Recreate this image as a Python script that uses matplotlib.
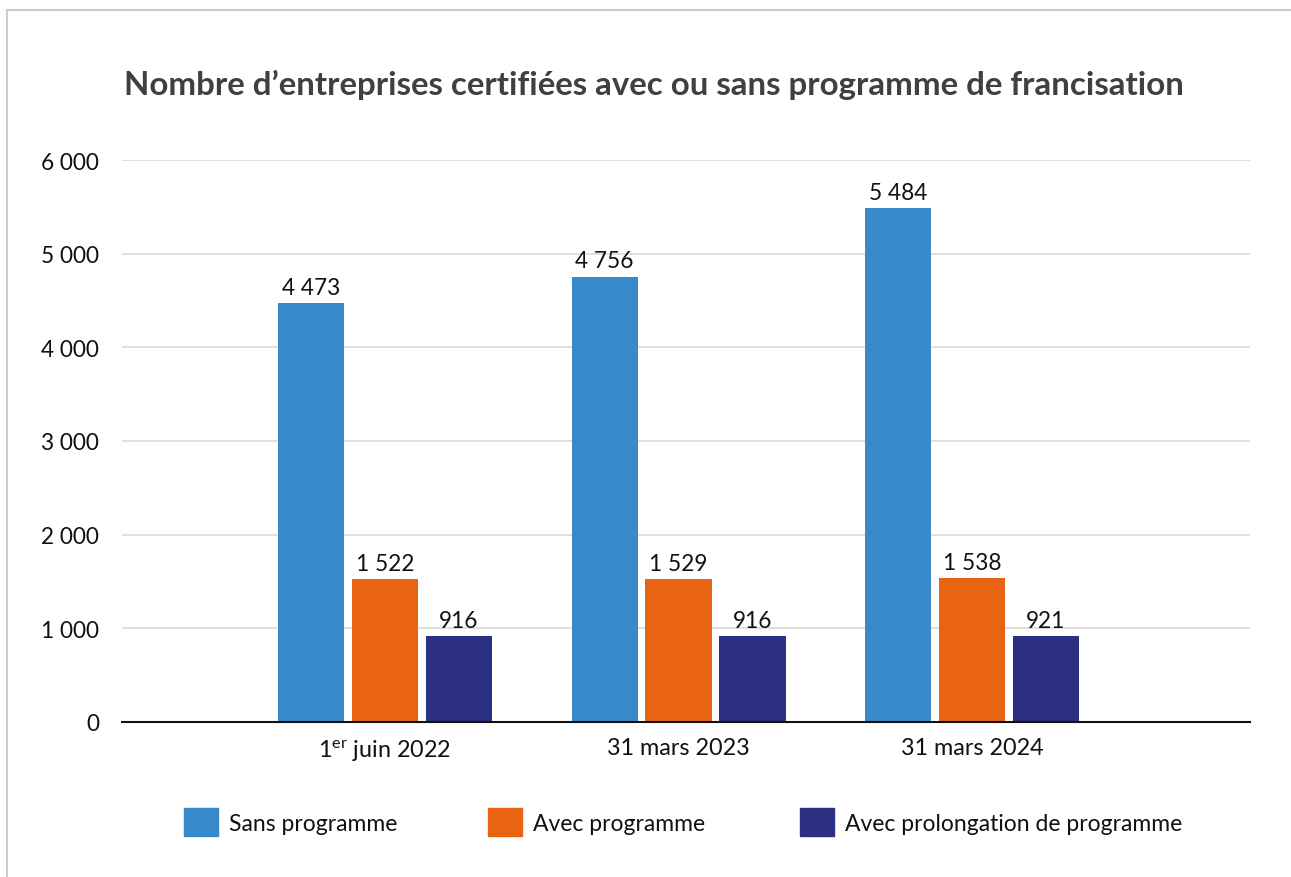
import matplotlib
matplotlib.use("Agg")
import matplotlib.pyplot as plt
from matplotlib.patches import Rectangle
import numpy as np

categories = ["1$\\mathregular{^{er}}$ juin 2022", "31 mars 2023", "31 mars 2024"]
series_names = ["Sans programme", "Avec programme", "Avec prolongation de programme"]
sans = [4473, 4756, 5484]
avec = [1522, 1529, 1538]
prolong = [916, 916, 921]
colors = ["#3789C9", "#E86413", "#2B3080"]
yticks = [0, 1000, 2000, 3000, 4000, 5000, 6000]
ytick_labels = ["0", "1 000", "2 000", "3 000", "4 000", "5 000", "6 000"]

def fmt(v):
    return f"{v:,}".replace(",", " ")

plt.rcParams['font.family'] = ['Lato', 'DejaVu Sans']

W, H = 1291, 878
fig = plt.figure(figsize=(W/100, H/100), dpi=100)
ax = fig.add_axes([122/W, 1-723/H, (1250-122)/W, (723-161)/H])

# frame border (top & left visible)
fig.patches.append(Rectangle((6.5/W, -0.1), 2.0, (1-10.5/H)+0.1, transform=fig.transFigure,
                             fill=False, edgecolor="#cccccc", linewidth=1.5))

x = np.arange(len(categories))
offset = 0.252
width = 0.225
all_series = [sans, avec, prolong]
for i, (vals, c) in enumerate(zip(all_series, colors)):
    bars = ax.bar(x + (i-1)*offset, vals, width=width, color=c, zorder=3)
    for b, v in zip(bars, vals):
        ax.text(b.get_x()+b.get_width()/2, v + 55, fmt(v), ha="center", va="bottom",
                fontsize=16.3, color="#111111")

ax.set_xlim(-0.896, 2.947)
ax.set_ylim(0, 6000)
ax.set_yticks(yticks)
ax.set_yticklabels(ytick_labels, fontsize=16.3, color="#111111")
ax.set_xticks(x)
ax.set_xticklabels(categories, fontsize=16.8, color="#111111")
ax.tick_params(axis="both", length=0)
ax.tick_params(axis="y", pad=16.5)
ax.tick_params(axis="x", pad=11)
ax.grid(axis="y", color="#d9d9d9", linewidth=1.2, zorder=0)
for s in ["top", "right", "left"]:
    ax.spines[s].set_visible(False)
ax.spines["bottom"].set_color("#111111")
ax.spines["bottom"].set_linewidth(1.5)
ax.spines["bottom"].set_zorder(4)

fig.text(654/W, 1-85/H, "Nombre d’entreprises certifiées avec ou sans programme de francisation",
         ha="center", va="center", fontsize=23.8, fontweight="bold", color="#404040")

leg_x = [184, 488, 800]
for name, c, lx in zip(series_names, colors, leg_x):
    lg = fig.legend(handles=[plt.Rectangle((0, 0), 1, 1, color=c)], labels=[name],
                    loc="center left", bbox_to_anchor=(lx/W, 1-823/H), frameon=False,
                    fontsize=16.5, handlelength=1.48, handleheight=1.48, handletextpad=0.48,
                    borderpad=0, borderaxespad=0)
    for t in lg.get_texts():
        t.set_color("#111111")

fig.savefig("out.png", dpi=100, facecolor="white")
